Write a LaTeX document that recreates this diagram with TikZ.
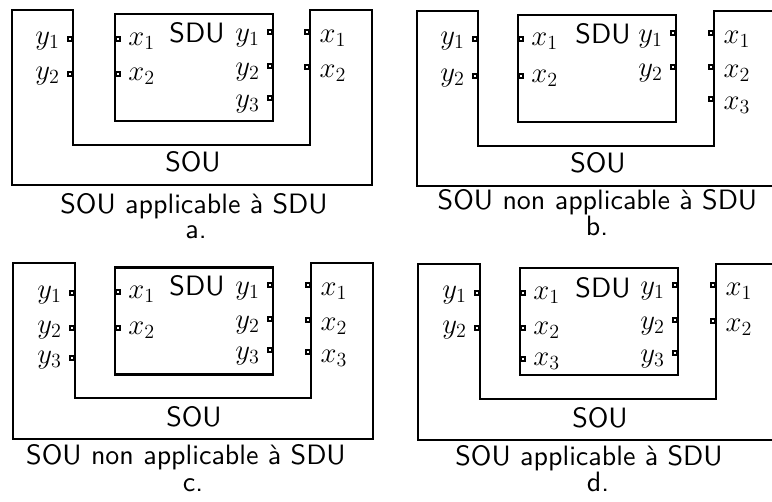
\RequirePackage{fix-cm}
\documentclass[tikz,border=0pt]{standalone}
\usepackage{fontspec}
\newfontfamily\labsf{lmsans10-regular.otf}
\begin{document}
\begin{tikzpicture}[x=0.75pt,y=-0.75pt,label distance=5pt]
\tikzset{
 sou/.style={line width=2.1pt, line join=miter},
 sdubox/.style={draw, line width=2.1pt, rectangle, minimum width=118.5pt, minimum height=80.25pt, inner sep=0pt},
 port/.style={draw, line width=1.6pt, rectangle, minimum width=3.2pt, minimum height=3.4pt, inner sep=0pt, fill=white},
 lab/.style={inner sep=0pt, font=\fontsize{21.5}{25}\selectfont},
 labl/.style={lab, yshift=-1.5pt},
 labr/.style={lab, yshift=-4.5pt},
 labo/.style={lab, yshift=-4.5pt, xshift=2pt},
 txt/.style={inner sep=0pt, font=\fontsize{21}{25}\selectfont\labsf, anchor=base},
}
\useasboundingbox (0,0) rectangle (772,501);
\clip (0,0) rectangle (772,501);
% ---------- a ----------
\begin{scope}[shift={(12,10)}]
 \draw[sou] (0,0) -| (61,135) -| (298,0) -- (360,0) |- (0,175) -- cycle;
 \node[sdubox] (a-sdu) at (182,57.5) {};
 \node[txt] (a-sdut) at (185,32) {SDU};
 \node[txt] (a-sout) at (181,161) {SOU};
 \node[port, anchor=east, label={[labl]left:$y_1$}] (a-ly1) at (61,29) {};
 \node[port, anchor=east, label={[labl]left:$y_2$}] (a-ly2) at (61,64) {};
 \node[port, anchor=west, label={[labl]right:$x_1$}] (a-dx1) at (103,29) {};
 \node[port, anchor=west, label={[labl]right:$x_2$}] (a-dx2) at (103,64) {};
 \node[port, anchor=east, label={[labr]left:$y_1$}] (a-dy1) at (261,22) {};
 \node[port, anchor=east, label={[labr]left:$y_2$}] (a-dy2) at (261,56) {};
 \node[port, anchor=east, label={[labr]left:$y_3$}] (a-dy3) at (261,88) {};
 \node[port, anchor=east, label={[labo]right:$x_1$}] (a-rx1) at (298,22) {};
 \node[port, anchor=east, label={[labo]right:$x_2$}] (a-rx2) at (298,57) {};
\end{scope}
\node[txt] (a-cap) at (194,213) {SOU applicable à SDU};
\node[txt] (a-let) at (196,238) {a.};
% ---------- b ----------
\begin{scope}[shift={(417,11)}]
 \draw[sou] (0,0) -| (61,135) -| (297,0) -- (360,0) |- (0,175) -- cycle;
 \node[sdubox] (b-sdu) at (180,57.5) {};
 \node[txt] (b-sdut) at (186,32) {SDU};
 \node[txt] (b-sout) at (181,161) {SOU};
 \node[port, anchor=east, label={[labl]left:$y_1$}] (b-ly1) at (61,28) {};
 \node[port, anchor=east, label={[labl]left:$y_2$}] (b-ly2) at (61,65) {};
 \node[port, anchor=west, label={[labl]right:$x_1$}] (b-dx1) at (101,28) {};
 \node[port, anchor=west, label={[labl]right:$x_2$}] (b-dx2) at (101,65) {};
 \node[port, anchor=east, label={[labr]left:$y_1$}] (b-dy1) at (259,22) {};
 \node[port, anchor=east, label={[labr]left:$y_2$}] (b-dy2) at (259,56) {};
 \node[port, anchor=east, label={[labo]right:$x_1$}] (b-rx1) at (297,22) {};
 \node[port, anchor=east, label={[labo]right:$x_2$}] (b-rx2) at (297,56) {};
 \node[port, anchor=east, label={[labo]right:$x_3$}] (b-rx3) at (297,88) {};
\end{scope}
\node[txt] (b-cap) at (597.5,209) {SOU non applicable à SDU};
\node[txt] (b-let) at (597,235) {b.};
% ---------- c ----------
\begin{scope}[shift={(13,263)}]
 \draw[sou] (0,0) -| (62,135) -| (298,0) -- (360,0) |- (0,176) -- cycle;
 \node[sdubox] (c-sdu) at (181,58) {};
 \node[txt] (c-sdut) at (184,32) {SDU};
 \node[txt] (c-sout) at (181,163) {SOU};
 \node[port, anchor=east, label={[labl]left:$y_1$}] (c-ly1) at (62,30) {};
 \node[port, anchor=east, label={[labl]left:$y_2$}] (c-ly2) at (62,65) {};
 \node[port, anchor=east, label={[labl]left:$y_3$}] (c-ly3) at (62,95) {};
 \node[port, anchor=west, label={[labl]right:$x_1$}] (c-dx1) at (102,29) {};
 \node[port, anchor=west, label={[labl]right:$x_2$}] (c-dx2) at (102,65) {};
 \node[port, anchor=east, label={[labr]left:$y_1$}] (c-dy1) at (260,22) {};
 \node[port, anchor=east, label={[labr]left:$y_2$}] (c-dy2) at (260,56) {};
 \node[port, anchor=east, label={[labr]left:$y_3$}] (c-dy3) at (260,87) {};
 \node[port, anchor=east, label={[labo]right:$x_1$}] (c-rx1) at (298,22) {};
 \node[port, anchor=east, label={[labo]right:$x_2$}] (c-rx2) at (298,57) {};
 \node[port, anchor=east, label={[labo]right:$x_3$}] (c-rx3) at (298,89) {};
\end{scope}
\node[txt] (c-cap) at (186,464) {SOU non applicable à SDU};
\node[txt] (c-let) at (193,491) {c.};
% ---------- d ----------
\begin{scope}[shift={(418,264)}]
 \draw[sou] (0,0) -| (62,135) -| (298,0) -- (360,0) |- (0,176) -- cycle;
 \node[sdubox] (d-sdu) at (181,57.5) {};
 \node[txt] (d-sdut) at (185,33) {SDU};
 \node[txt] (d-sout) at (182,163) {SOU};
 \node[port, anchor=east, label={[labl]left:$y_1$}] (d-ly1) at (62,29) {};
 \node[port, anchor=east, label={[labl]left:$y_2$}] (d-ly2) at (62,64) {};
 \node[port, anchor=west, label={[labl]right:$x_1$}] (d-dx1) at (102,29) {};
 \node[port, anchor=west, label={[labl]right:$x_2$}] (d-dx2) at (102,64) {};
 \node[port, anchor=west, label={[labl]right:$x_3$}] (d-dx3) at (102,95) {};
 \node[port, anchor=east, label={[labr]left:$y_1$}] (d-dy1) at (260,21) {};
 \node[port, anchor=east, label={[labr]left:$y_2$}] (d-dy2) at (260,56) {};
 \node[port, anchor=east, label={[labr]left:$y_3$}] (d-dy3) at (260,89) {};
 \node[port, anchor=east, label={[labo]right:$x_1$}] (d-rx1) at (298,21) {};
 \node[port, anchor=east, label={[labo]right:$x_2$}] (d-rx2) at (298,57) {};
\end{scope}
\node[txt] (d-cap) at (589,465) {SOU applicable à SDU};
\node[txt] (d-let) at (598,491) {d.};
\end{tikzpicture}
\end{document}
